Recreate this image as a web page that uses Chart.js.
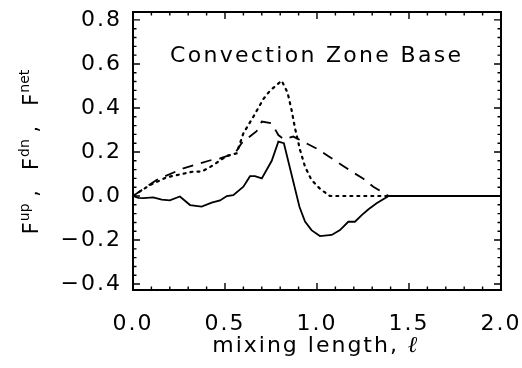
<!DOCTYPE html>
<html><head><meta charset="utf-8">
<script src="https://cdn.jsdelivr.net/npm/chart.js@4.4.0/dist/chart.umd.min.js"></script>
<style>html,body{margin:0;padding:0;background:#fff;}canvas{display:block;}</style>
</head><body>
<canvas id="c" width="522" height="368"></canvas>
<script>
// ---- data ----
const netX = [0, 0.03, 0.056, 0.11, 0.156, 0.2, 0.255, 0.31, 0.373, 0.428, 0.473, 0.51, 0.545, 0.6, 0.636, 0.663, 0.7, 0.754, 0.79, 0.82, 0.905, 0.935, 0.97, 1.016, 1.08, 1.125, 1.17, 1.206, 1.243, 1.28, 1.324, 1.39, 1.6, 1.8, 2.0];
const netY = [0, -0.008, -0.01, -0.006, -0.016, -0.02, -0.002, -0.041, -0.048, -0.03, -0.02, 0.0, 0.004, 0.042, 0.09, 0.09, 0.08, 0.16, 0.247, 0.24, -0.05, -0.116, -0.155, -0.182, -0.177, -0.155, -0.117, -0.117, -0.087, -0.06, -0.033, 0, 0, 0, 0];

const dashX = [0, 0.128, 0.274, 0.428, 0.473, 0.554, 0.59, 0.672, 0.7, 0.754, 0.79, 0.82, 0.871, 0.925, 1.0, 1.06, 1.134, 1.19, 1.25, 1.306, 1.39, 2.0];
const dashY = [0, 0.073, 0.126, 0.164, 0.171, 0.194, 0.24, 0.295, 0.338, 0.33, 0.277, 0.258, 0.27, 0.247, 0.215, 0.182, 0.141, 0.11, 0.08, 0.042, 0, 0];

const dotX = [0, 0.092, 0.183, 0.328, 0.373, 0.418, 0.51, 0.563, 0.6, 0.654, 0.708, 0.745, 0.808, 0.84, 0.862, 0.88, 0.908, 0.935, 0.97, 1.016, 1.07, 1.39, 2.0];
const dotY = [0, 0.05, 0.085, 0.111, 0.111, 0.131, 0.182, 0.194, 0.285, 0.36, 0.44, 0.479, 0.524, 0.47, 0.39, 0.31, 0.209, 0.133, 0.073, 0.033, 0, 0, 0];

const xTicks = [0, 0.5, 1.0, 1.5, 2.0];
const xTickLabels = ['0.0', '0.5', '1.0', '1.5', '2.0'];
const yTicks = [-0.4, -0.2, 0.0, 0.2, 0.4, 0.6, 0.8];
const yTickLabels = ['\u22120.4', '\u22120.2', '0.0', '0.2', '0.4', '0.6', '0.8'];
const xMinorPerMajor = 5;
const yMinorPerMajor = 5;

const titleText = 'Convection Zone Base';
const xTitle = 'mixing length, ';
const xTitleSymbol = '\u2113';

function pts(xs, ys){ return xs.map((v,i)=>({x:v, y:ys[i]})); }

const deco = {
  id: 'deco',
  beforeDraw(chart){
    const ctx = chart.ctx;
    ctx.save(); ctx.fillStyle='#fff'; ctx.fillRect(0,0,chart.width,chart.height); ctx.restore();
  },
  afterDraw(chart){
    const {ctx, chartArea:a, scales:{x, y}} = chart;
    ctx.save();
    ctx.letterSpacing = '0px';
    ctx.strokeStyle = '#000';
    ctx.lineWidth = 2;
    ctx.strokeRect(a.left, a.top, a.right - a.left, a.bottom - a.top);
    ctx.lineWidth = 1.4;
    ctx.beginPath();
    for (let i = 0; i < xTicks.length; i++){
      const v0 = xTicks[i];
      const px = x.getPixelForValue(v0);
      ctx.moveTo(px, a.bottom); ctx.lineTo(px, a.bottom - 7);
      ctx.moveTo(px, a.top); ctx.lineTo(px, a.top + 7);
      if (i < xTicks.length - 1){
        const step = (xTicks[i+1] - v0) / xMinorPerMajor;
        for (let k = 1; k < xMinorPerMajor; k++){
          const p = x.getPixelForValue(v0 + k*step);
          ctx.moveTo(p, a.bottom); ctx.lineTo(p, a.bottom - 3.5);
          ctx.moveTo(p, a.top); ctx.lineTo(p, a.top + 3.5);
        }
      }
    }
    const yStep = (yTicks[1]-yTicks[0]) / yMinorPerMajor;
    const yAll = [];
    for (let v = yTicks[0] - (yTicks[1]-yTicks[0]); v <= yTicks[yTicks.length-1] + (yTicks[1]-yTicks[0]) + 1e-9; v += yStep) yAll.push(v);
    yAll.forEach(v => {
      if (v < y.min - 1e-9 || v > y.max + 1e-9) return;
      const major = yTicks.some(t => Math.abs(t - v) < 1e-6);
      const L = major ? 7 : 3.5;
      const py = y.getPixelForValue(v);
      ctx.moveTo(a.left, py); ctx.lineTo(a.left + L, py);
      ctx.moveTo(a.right, py); ctx.lineTo(a.right - L, py);
    });
    ctx.stroke();

    ctx.fillStyle = '#000';
    // in-plot title
    ctx.font = '22px "DejaVu Sans"';
    ctx.textBaseline = 'alphabetic';
    ctx.textAlign = 'left';
    const w0 = ctx.measureText(titleText).width;
    const sp = (291 - w0) / (titleText.length - 1);
    ctx.letterSpacing = sp.toFixed(2) + 'px';
    ctx.fillText(titleText, 170, 62);

    // x title
    ctx.letterSpacing = '2px';
    ctx.font = '22px "DejaVu Sans"';
    const wx = ctx.measureText(xTitle).width;
    ctx.font = 'bold italic 23px "DejaVu Serif"';
    const wl = ctx.measureText(xTitleSymbol).width;
    const startX = 316 - (wx + wl) / 2;
    ctx.font = '22px "DejaVu Sans"';
    ctx.fillText(xTitle, startX, 352);
    ctx.font = 'bold italic 23px "DejaVu Serif"';
    ctx.fillText(xTitleSymbol, startX + wx, 352);

    // y title (rotated) F^up, F^dn, F^net
    ctx.letterSpacing = '0px';
    const parts = [
      ['F', 0], ['up', 1], [' ,   ', 0], ['F', 0], ['dn', 1], [' ,   ', 0], ['F', 0], ['net', 1]
    ];
    const big = '21px "DejaVu Sans"', small = '14px "DejaVu Sans"';
    let total = 0;
    parts.forEach(p => { ctx.font = p[1] ? small : big; total += ctx.measureText(p[0]).width + (p[1] ? 1 : 0); });
    ctx.translate(38, 152);
    ctx.rotate(-Math.PI/2);
    let cx = -total/2;
    parts.forEach(p => {
      ctx.font = p[1] ? small : big;
      if (p[1]) cx += 1;
      ctx.fillText(p[0], cx, p[1] ? -9 : 0);
      cx += ctx.measureText(p[0]).width;
    });
    ctx.restore();
  }
};

const spacingPlugin = {
  id: 'spacing',
  beforeDraw(chart){ chart.ctx.letterSpacing = '2px'; },
  beforeLayout(chart){ chart.ctx.letterSpacing = '2px'; }
};

new Chart(document.getElementById('c'), {
  type: 'scatter',
  data: {
    datasets: [
      { label: 'dotted', data: pts(dotX, dotY), showLine: true, borderColor: '#000', borderWidth: 2.2, borderDash: [2, 5], borderCapStyle: 'round', pointRadius: 0, tension: 0 },
      { label: 'dashed', data: pts(dashX, dashY), showLine: true, borderColor: '#000', borderWidth: 1.8, borderDash: [11, 8], pointRadius: 0, tension: 0 },
      { label: 'solid', data: pts(netX, netY), showLine: true, borderColor: '#000', borderWidth: 1.8, pointRadius: 0, tension: 0 }
    ]
  },
  options: {
    responsive: false,
    animation: false,
    layout: { padding: { top: 12, right: 21, left: 0, bottom: 0 } },
    plugins: { legend: { display: false }, tooltip: { enabled: false } },
    scales: {
      x: {
        type: 'linear', min: 0, max: 2,
        grid: { display: false, drawTicks: false },
        border: { display: false },
        afterBuildTicks(s){ s.ticks = xTicks.map(v => ({ value: v })); },
        afterFit(s){ s.height = 78; s.paddingLeft = 0; s.paddingRight = 0; },
        ticks: {
          color: '#000', padding: 21, maxRotation: 0, autoSkip: false,
          font: { family: 'DejaVu Sans', size: 22 },
          callback(v){ const i = xTicks.findIndex(t => Math.abs(t - v) < 1e-9); return i >= 0 ? xTickLabels[i] : ''; }
        }
      },
      y: {
        type: 'linear', min: -0.427, max: 0.836,
        grid: { display: false, drawTicks: false },
        border: { display: false },
        afterBuildTicks(s){ s.ticks = yTicks.map(v => ({ value: v })); },
        afterFit(s){ s.width = 133; s.paddingTop = 0; s.paddingBottom = 0; },
        ticks: {
          color: '#000', padding: 11, autoSkip: false,
          font: { family: 'DejaVu Sans', size: 22 },
          callback(v){ const i = yTicks.findIndex(t => Math.abs(t - v) < 1e-9); return i >= 0 ? yTickLabels[i] : ''; }
        }
      }
    }
  },
  plugins: [spacingPlugin, deco]
});
</script>
</body></html>
